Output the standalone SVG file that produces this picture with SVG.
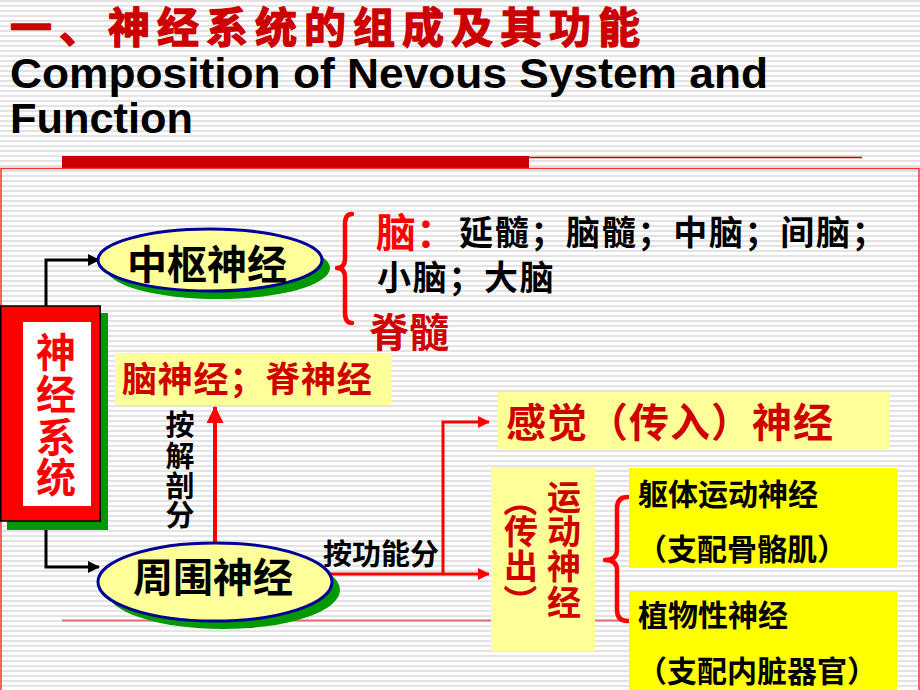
<svg xmlns="http://www.w3.org/2000/svg" width="920" height="690" viewBox="0 0 920 690">
<defs>
<pattern id="stripes" width="10" height="5" patternUnits="userSpaceOnUse"><rect width="10" height="2" fill="#e3e3e3"/></pattern>
<marker id="arrB" markerUnits="userSpaceOnUse" markerWidth="12" markerHeight="12" refX="11" refY="6" orient="auto"><path d="M0,0 L12,6 L0,12 z" fill="#000"/></marker>
<marker id="arrR" markerUnits="userSpaceOnUse" markerWidth="12" markerHeight="12" refX="11" refY="6" orient="auto"><path d="M0,0 L12,6 L0,12 z" fill="#ff0000"/></marker>
<marker id="arrRB" markerUnits="userSpaceOnUse" markerWidth="17" markerHeight="17" refX="16" refY="8.5" orient="auto"><path d="M0,0 L17,8.5 L0,17 z" fill="#ff0000"/></marker>
<style>
.cjk{font-family:"Noto Sans CJK SC","Liberation Sans",sans-serif;font-weight:700}
.blk{fill:#000}
.red{fill:#ff0000}
.dred{fill:#d00000}
.lb{fill:#ffff99}
.yb{fill:#ffff00}
.shadow{fill:#009900}
.ell{fill:#ffff99;stroke:#000099;stroke-width:3}
.brace{fill:none;stroke:#ff0000;stroke-width:4.5;stroke-linecap:round;stroke-linejoin:round}
</style>
</defs>
<rect width="920" height="690" fill="#fff"/>
<rect width="920" height="690" fill="url(#stripes)"/>
<g id="header">
<text x="10" y="43" class="cjk" font-size="42" font-weight="900" fill="#cc0000" stroke="#cc0000" stroke-width="1.4" stroke-linejoin="round" textLength="630" lengthAdjust="spacing">一、神经系统的组成及其功能</text>
<text x="10" y="88" font-family="Liberation Sans, Arial, sans-serif" font-weight="700" font-size="42" fill="#000" textLength="758" lengthAdjust="spacingAndGlyphs">Composition of Nevous System and</text>
<text x="10" y="133" font-family="Liberation Sans, Arial, sans-serif" font-weight="700" font-size="42" fill="#000" textLength="183" lengthAdjust="spacingAndGlyphs">Function</text>
<line x1="62" y1="157.5" x2="862" y2="157.5" stroke="#cc0000" stroke-width="1.5"/>
<rect x="62" y="156" width="467" height="12" fill="#cc0000"/>
<rect x="1" y="168.5" width="918" height="540" fill="none" stroke="#ff3333" stroke-width="1.5"/>
<line x1="62" y1="620.5" x2="862" y2="620.5" stroke="#e07070" stroke-width="2"/>
</g>
<g id="connectors">
<path d="M46,420 V260 H99" fill="none" stroke="#000" stroke-width="3" marker-end="url(#arrB)"/>
<path d="M46,420 V567 H99" fill="none" stroke="#000" stroke-width="3" marker-end="url(#arrB)"/>
<path d="M215,545 V407" fill="none" stroke="#ff0000" stroke-width="4" marker-end="url(#arrRB)"/>
<path d="M325,574 H443 V422 H489" fill="none" stroke="#ff0000" stroke-width="3" marker-end="url(#arrR)"/>
<path d="M443,574 H489" fill="none" stroke="#ff0000" stroke-width="3" marker-end="url(#arrR)"/>
<path class="brace" d="M352,214 Q345,214 345,224 V258 Q345,268 337,268 Q345,268 345,278 V313 Q345,323 352,323"/>
<path class="brace" d="M628,497 Q617,497 617,508 V550 Q617,560 605,560 Q617,560 617,570 V610 Q617,621 628,621"/>
</g>
<g id="nervous-system">
<rect x="7" y="313" width="101" height="217" class="shadow"/>
<rect x="0.75" y="306" width="99.5" height="215" fill="#ff0000" stroke="#000" stroke-width="1.5"/>
<rect x="23" y="322" width="68" height="184" fill="#fff"/>
<text class="cjk red" font-size="40" text-anchor="middle" dominant-baseline="central" x="56 56 56 56" y="350 392 435 475">神经系统</text>
</g>
<g id="central">
<ellipse cx="218" cy="268" rx="112" ry="31" class="shadow"/>
<ellipse cx="210" cy="260" rx="112" ry="31" class="ell"/>
<text x="207" y="279" class="cjk blk" font-size="40" text-anchor="middle">中枢神经</text>
</g>
<g id="brain-detail">
<text x="376" y="247" class="cjk"><tspan class="red" font-size="40">脑：</tspan><tspan class="blk" font-size="34" dx="3" dy="-2" letter-spacing="1.7">延髓；脑髓；中脑；间脑；</tspan></text>
<text x="377" y="290" class="cjk blk" font-size="34" letter-spacing="1.7">小脑；大脑</text>
<text x="369" y="347" class="cjk dred" font-size="40">脊髓</text>
</g>
<g id="peripheral">
<ellipse cx="223" cy="590" rx="117" ry="39" class="shadow"/>
<ellipse cx="215" cy="582" rx="117" ry="39" class="ell"/>
<text x="213" y="592" class="cjk blk" font-size="40" text-anchor="middle">周围神经</text>
</g>
<g id="anatomy">
<rect x="115" y="353" width="276" height="52" class="lb"/>
<text x="122" y="392" class="cjk dred" font-size="35" letter-spacing="0.8">脑神经；脊神经</text>
<text class="cjk blk" font-size="29" text-anchor="middle" dominant-baseline="central" x="180 180 180 180" y="423 454 484 513">按解剖分</text>
</g>
<g id="function-label">
<text x="323" y="565" class="cjk blk" font-size="29">按功能分</text>
</g>
<g id="sensory">
<rect x="498" y="392" width="391" height="57" class="lb"/>
<text x="506" y="437" class="cjk dred" font-size="40" letter-spacing="1">感觉（传入）神经</text>
</g>
<g id="motor">
<rect x="491" y="467" width="104" height="184" class="lb"/>
<text class="cjk dred" font-size="34" text-anchor="middle" dominant-baseline="central" x="564 564 564 564" y="495 529 564 600">运动神经</text>
<text class="cjk dred" font-size="34" text-anchor="middle" dominant-baseline="central" transform="translate(521,500) rotate(90)">（</text>
<text class="cjk dred" font-size="34" text-anchor="middle" dominant-baseline="central" x="521 521" y="529 564">传出</text>
<text class="cjk dred" font-size="34" text-anchor="middle" dominant-baseline="central" transform="translate(521,601) rotate(90)">）</text>
</g>
<g id="somatic">
<rect x="629" y="468" width="268" height="100" class="yb"/>
<text x="638" y="505" class="cjk blk" font-size="30">躯体运动神经</text>
<text x="637" y="560" class="cjk blk" font-size="30">（支配骨骼肌）</text>
</g>
<g id="autonomic">
<rect x="629" y="591" width="268" height="100" class="yb"/>
<text x="638" y="626" class="cjk blk" font-size="30">植物性神经</text>
<text x="637" y="682" class="cjk blk" font-size="30">（支配内脏器官）</text>
</g>
</svg>
